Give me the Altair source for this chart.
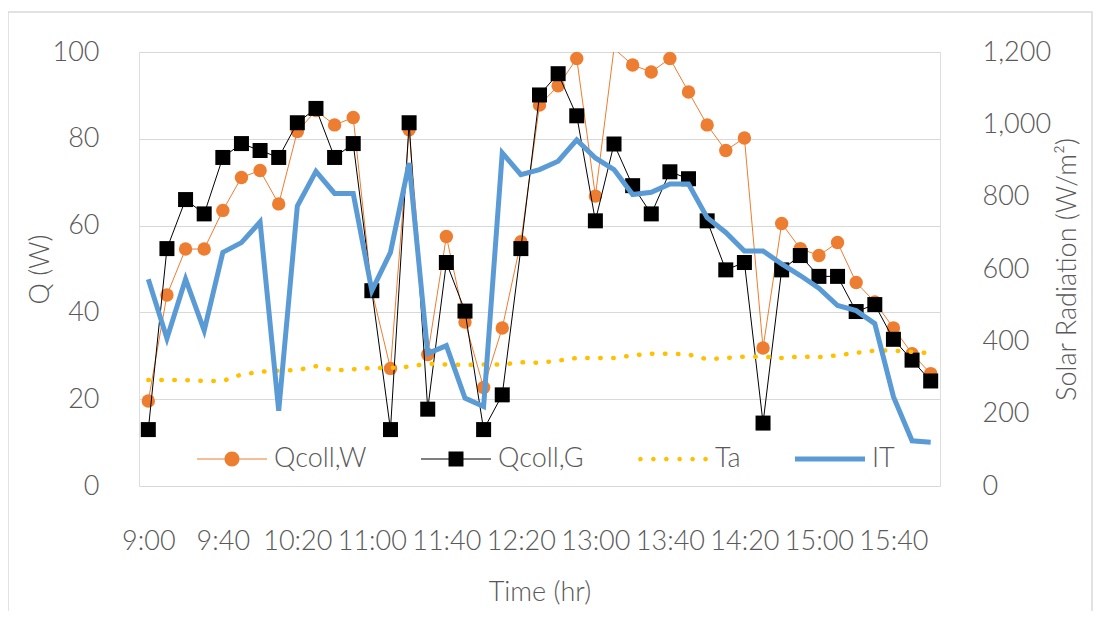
import altair as alt
import pandas as pd

times = ["9:00", "9:10", "9:20", "9:30", "9:40", "9:50", "10:00", "10:10", "10:20", "10:30",
         "10:40", "10:50", "11:00", "11:10", "11:20", "11:30", "11:40", "11:50", "12:00", "12:10",
         "12:20", "12:30", "12:40", "12:50", "13:00", "13:10", "13:20", "13:30", "13:40", "13:50",
         "14:00", "14:10", "14:20", "14:30", "14:40", "14:50", "15:00", "15:10", "15:20", "15:30",
         "15:40", "15:50", "16:00"]
tick_labels = ["9:00", "9:40", "10:20", "11:00", "11:40", "12:20", "13:00", "13:40", "14:20", "15:00", "15:40"]

qcoll_w = [19.6, 44.0, 54.6, 54.6, 63.5, 71.1, 72.7, 65.0, 81.7, 86.5, 83.2, 84.9, 45.0, 27.1, 82.1,
           30.3, 57.5, 37.8, 22.7, 36.4, 56.3, 87.8, 92.2, 98.5, 66.8, 100.8, 97.0, 95.4, 98.5, 90.8,
           83.2, 77.3, 80.2, 31.8, 60.5, 54.7, 53.1, 56.1, 46.9, 42.4, 36.4, 30.5, 25.9]
qcoll_g = [13.0, 54.7, 66.0, 62.7, 75.7, 78.9, 77.3, 75.7, 83.7, 87.0, 75.7, 78.9, 45.0, 13.0, 83.7,
           17.7, 51.5, 40.3, 13.0, 21.0, 54.7, 90.1, 95.0, 85.3, 61.1, 78.8, 69.2, 62.7, 72.4, 70.8,
           61.1, 49.8, 51.5, 14.5, 49.8, 53.1, 48.3, 48.3, 40.2, 41.8, 33.8, 29.0, 24.2]
ta = [24.4, 24.4, 24.4, 24.2, 24.2, 25.7, 26.3, 26.6, 26.7, 27.6, 26.6, 26.9, 27.2, 27.2, 27.5,
      28.2, 28.0, 27.9, 28.0, 28.0, 28.5, 28.4, 28.9, 29.5, 29.5, 29.5, 30.1, 30.5, 30.5, 30.3,
      29.2, 29.5, 29.8, 29.8, 29.5, 29.8, 29.7, 30.1, 30.7, 31.2, 31.2, 30.9, 30.6]
it_rad = [572, 408, 572, 430, 646, 673, 730, 208, 774, 870, 809, 809, 540, 646, 893, 366, 388, 243,
          220, 921, 861, 875, 898, 957, 907, 875, 806, 812, 835, 835, 742, 701, 650, 650, 614, 582,
          547, 499, 485, 449, 247, 125, 121]

series_names = ["Qcoll,W", "Qcoll,G", "Ta", "IT"]
series_colors = ["#ED7D31", "#000000", "#FFC000", "#5B9BD5"]

df = pd.DataFrame({"time": times, "W": qcoll_w, "G": qcoll_g, "Ta": ta, "IT": it_rad})

FONT = "Lato"
FW = 300
FS = 27
TXT = "#595959"
W_PLOT, H_PLOT = 801, 434

xenc = alt.X("time:O", sort=None,
             scale=alt.Scale(type="point", padding=0.5),
             axis=alt.Axis(values=tick_labels, labelAngle=0, ticks=False, domain=False,
                           labelPadding=42, labelFont=FONT, labelFontSize=FS, labelColor=TXT,
                           labelFontWeight=FW,
                           title="Time (hr)", titleFont=FONT, titleFontSize=FS, titleColor=TXT,
                           titleFontWeight=FW, titleY=106, titleBaseline="middle"))

yleft = alt.Scale(domain=[0, 100], nice=False)
left_axis = alt.Axis(values=[0, 20, 40, 60, 80, 100], grid=True, gridColor="#D9D9D9", gridWidth=1,
                     domain=False, ticks=False, labelPadding=40, labelFont=FONT, labelFontSize=FS,
                     labelColor=TXT, labelFontWeight=FW,
                     title="Q (W)", titleFont=FONT, titleFontSize=FS, titleColor=TXT,
                     titleFontWeight=FW, titleAngle=270, titleX=-99, titleY=H_PLOT / 2,
                     titleBaseline="middle")

base = alt.Chart(df)

w_line = base.mark_line(color="#ED7D31", strokeWidth=1, clip=True).encode(
    x=xenc, y=alt.Y("W:Q", scale=yleft, axis=left_axis))
w_pts = base.transform_filter("datum.W <= 100").mark_point(
    filled=True, shape="circle", size=180, color="#ED7D31", opacity=1).encode(
    x=xenc, y=alt.Y("W:Q", scale=yleft))
g_line = base.mark_line(color="#000000", strokeWidth=1).encode(
    x=xenc, y=alt.Y("G:Q", scale=yleft))
g_pts = base.mark_point(filled=True, shape="square", size=225, color="#000000", opacity=1).encode(
    x=xenc, y=alt.Y("G:Q", scale=yleft))
ta_line = base.mark_line(color="#FFC000", strokeWidth=4.5, strokeDash=[0.5, 12.5],
                         strokeCap="round").encode(
    x=xenc, y=alt.Y("Ta:Q", scale=yleft))

t = 0.016
r = 0.214
path_w = (f"M-1,-{t}H-{r}V{t}H-1Z M{r},-{t}H1V{t}H{r}Z "
          f"M-{r},0A{r},{r} 0 1,0 {r},0A{r},{r} 0 1,0 -{r},0Z")
path_g = (f"M-1,-{t}H-{r}V{t}H-1Z M{r},-{t}H1V{t}H{r}Z "
          f"M-{r},-{r}H{r}V{r}H-{r}Z")
dr = 0.066
dots = []
for cx in [-0.93, -0.56, -0.19, 0.19, 0.56, 0.93]:
    dots.append(f"M{cx - dr:.3f},0A{dr},{dr} 0 1,0 {cx + dr:.3f},0A{dr},{dr} 0 1,0 {cx - dr:.3f},0Z")
path_ta = " ".join(dots)
path_it = "M-1,-0.07H1V0.07H-1Z"

legend_df = pd.DataFrame({"series": series_names})
leg = alt.Legend(orient="none", legendX=58, legendY=372, direction="horizontal", title=None,
                 labelFont=FONT, labelFontSize=FS, labelColor=TXT, labelFontWeight=FW,
                 symbolSize=4900, symbolStrokeWidth=0, symbolOpacity=1, columnPadding=54,
                 labelOffset=7)
legend_layer = alt.Chart(legend_df).mark_point(filled=True, size=4900, strokeWidth=0).encode(
    x=alt.value(-3000), y=alt.value(-3000),
    color=alt.Color("series:N", sort=series_names,
                    scale=alt.Scale(domain=series_names, range=series_colors), legend=leg),
    shape=alt.Shape("series:N", sort=series_names,
                    scale=alt.Scale(domain=series_names, range=[path_w, path_g, path_ta, path_it]),
                    legend=leg),
)

border = alt.Chart(pd.DataFrame({"a": [0]})).mark_rect(
    fillOpacity=0, stroke="#D9D9D9", strokeWidth=1.5).encode(
    x=alt.value(-131), x2=alt.value(953), y=alt.value(-40), y2=alt.value(600))

left = alt.layer(border, w_line, w_pts, g_line, g_pts, ta_line, legend_layer)

it_line = base.mark_line(color="#5B9BD5", strokeWidth=5, strokeJoin="miter").encode(
    x=xenc,
    y=alt.Y("IT:Q", scale=alt.Scale(domain=[0, 1200], nice=False),
            axis=alt.Axis(orient="right", values=[0, 200, 400, 600, 800, 1000, 1200], format=",d",
                          grid=False, domain=False, ticks=False, labelPadding=42,
                          labelFont=FONT, labelFontSize=FS, labelColor=TXT, labelFontWeight=FW,
                          title="Solar Radiation (W/m²)", titleFont=FONT, titleFontSize=FS,
                          titleColor=TXT, titleFontWeight=FW, titleAngle=270,
                          titleX=127, titleY=H_PLOT / 2, titleBaseline="middle")))

chart = alt.layer(left, it_line).resolve_scale(y="independent").properties(
    width=W_PLOT, height=H_PLOT,
    autosize=alt.AutoSizeParams(type="none"),
    padding={"left": 131, "top": 44, "right": 154, "bottom": 125},
).configure_view(stroke=None).configure(background="white")

chart.save("out.html", embed_options={"renderer": "svg", "actions": False})
